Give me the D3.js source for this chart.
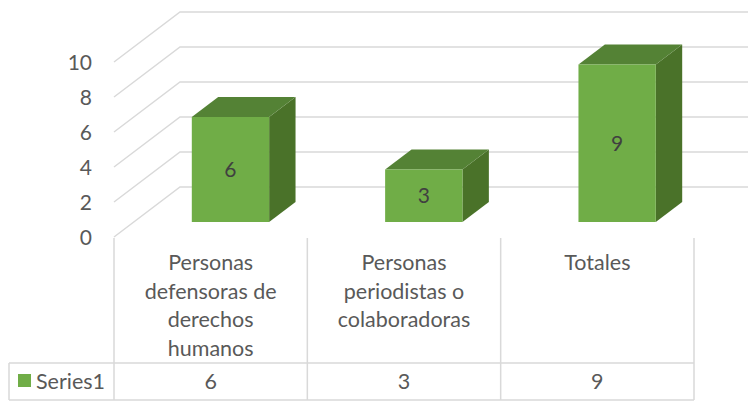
<!DOCTYPE html>
<html>
<head>
<meta charset="utf-8">
<script src="https://cdn.jsdelivr.net/npm/d3@7"></script>
<style>
  body { margin: 0; background: #fff; }
  svg text { font-family: Lato, "Open Sans", sans-serif; fill: #595959; }
</style>
</head>
<body>
<svg id="chart" width="748" height="412"></svg>
<script>
// Chart data
var categories = ["Personas defensoras de derechos humanos", "Personas periodistas o colaboradoras", "Totales"];
var categoryLines = [["Personas", "defensoras de", "derechos", "humanos"], ["Personas", "periodistas o", "colaboradoras"], ["Totales"]];
var seriesName = "Series1";
var values = [6, 3, 9];
var yTicks = [0, 2, 4, 6, 8, 10];

var svg = d3.select("#chart");

// Front plane scales
var x = d3.scaleBand().domain(categories).range([114, 694]);
var y = d3.scaleLinear().domain([0, 10]).range([237, 62]);

// Depth vector of the 3D box
var depthX = 66, depthY = -50;
var barFront = 0.3, barBack = 0.7, barWidth = 0.4;

var grid = svg.append("g")
    .attr("fill", "none")
    .attr("stroke", "#d9d9d9")
    .attr("stroke-width", 1.5);

// Side wall + back wall gridlines
yTicks.forEach(function(t) {
  var y0 = y(t);
  grid.append("polyline")
      .attr("points", [[x.range()[0], y0], [x.range()[0] + depthX, y0 + depthY], [760, y0 + depthY]].join(" "));
});

// Tick labels
svg.append("g").selectAll("text")
    .data(yTicks).enter()
  .append("text")
    .attr("x", 92)
    .attr("y", function(d) { return y(d); })
    .attr("dy", "0.36em")
    .attr("text-anchor", "end")
    .attr("font-size", 21)
    .text(function(d) { return d; });

// Bars
var bars = svg.append("g").selectAll("g")
    .data(values).enter()
  .append("g");

function barCorner(i, d) {
  var bw = x.bandwidth() * barWidth;
  var x0 = x(categories[i]) + (x.bandwidth() - bw) / 2 + depthX * barFront;
  var yb = y(0) + depthY * barFront;
  var yt = y(d) + depthY * barFront;
  var dx = depthX * (barBack - barFront), dy = depthY * (barBack - barFront);
  return {x0: x0, x1: x0 + bw, yb: yb, yt: yt, dx: dx, dy: dy};
}

// side
bars.append("polygon")
    .attr("fill", "#4a7229")
    .attr("points", function(d, i) {
      var c = barCorner(i, d);
      return [[c.x1, c.yb], [c.x1 + c.dx, c.yb + c.dy], [c.x1 + c.dx, c.yt + c.dy], [c.x1, c.yt]].join(" ");
    });
// top
bars.append("polygon")
    .attr("fill", "#548235")
    .attr("points", function(d, i) {
      var c = barCorner(i, d);
      return [[c.x0, c.yt], [c.x0 + c.dx, c.yt + c.dy], [c.x1 + c.dx, c.yt + c.dy], [c.x1, c.yt]].join(" ");
    });
// front
bars.append("rect")
    .attr("fill", "#70ad47")
    .attr("x", function(d, i) { return barCorner(i, d).x0; })
    .attr("y", function(d, i) { return barCorner(i, d).yt; })
    .attr("width", x.bandwidth() * barWidth)
    .attr("height", function(d, i) { var c = barCorner(i, d); return c.yb - c.yt; });

// Data labels
bars.append("text")
    .attr("x", function(d, i) { var c = barCorner(i, d); return (c.x0 + c.x1) / 2; })
    .attr("y", function(d, i) { var c = barCorner(i, d); return (c.yb + c.yt) / 2; })
    .attr("dy", "0.36em")
    .attr("text-anchor", "middle")
    .attr("font-size", 21)
    .style("fill", "#404040")
    .text(function(d) { return d; });

// Data table
var table = svg.append("g")
    .attr("fill", "none")
    .attr("stroke", "#d9d9d9")
    .attr("stroke-width", 1.5);

var cols = categories.map(function(c) { return x(c); }).concat([x.range()[1]]);
cols.forEach(function(cx) {
  table.append("line").attr("x1", cx).attr("x2", cx).attr("y1", 238).attr("y2", 400);
});
table.append("line").attr("x1", 9).attr("x2", 694).attr("y1", 363).attr("y2", 363);
table.append("line").attr("x1", 9).attr("x2", 694).attr("y1", 400).attr("y2", 400);
table.append("line").attr("x1", 9).attr("x2", 9).attr("y1", 363).attr("y2", 400);

// Category labels
svg.append("g").selectAll("text")
    .data(categories).enter()
  .append("text")
    .attr("text-anchor", "middle")
    .attr("font-size", 21.5)
    .attr("transform", function(d) { return "translate(" + (x(d) + x.bandwidth() / 2) + ",270)"; })
    .each(function(d, i) {
      d3.select(this).selectAll("tspan")
          .data(categoryLines[i]).enter()
        .append("tspan")
          .attr("x", 0)
          .attr("y", function(l, j) { return j * 28.5; })
          .text(function(l) { return l; });
    });

// Series row
svg.append("rect")
    .attr("x", 18).attr("y", 374)
    .attr("width", 13).attr("height", 13)
    .attr("fill", "#70ad47");
svg.append("text")
    .attr("x", 36).attr("y", 389)
    .attr("font-size", 21.5)
    .text(seriesName);

svg.append("g").selectAll("text")
    .data(values).enter()
  .append("text")
    .attr("x", function(d, i) { return x(categories[i]) + x.bandwidth() / 2; })
    .attr("y", 389)
    .attr("text-anchor", "middle")
    .attr("font-size", 21.5)
    .text(function(d) { return d; });
</script>
</body>
</html>
